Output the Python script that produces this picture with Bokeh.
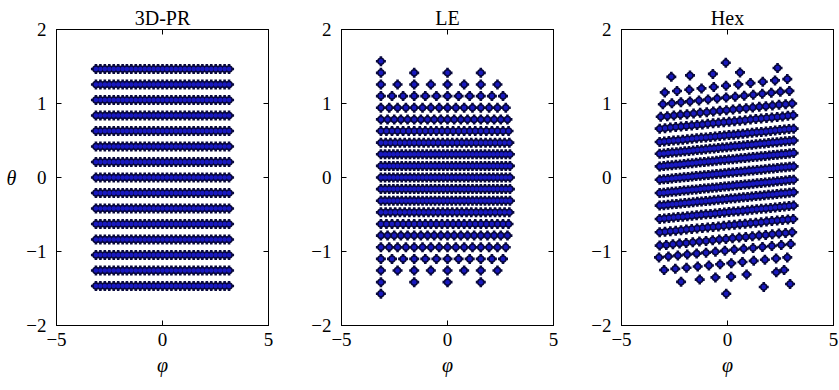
import numpy as np
from bokeh.plotting import figure
from bokeh.layouts import row
from bokeh.models import LinearAxis, FixedTicker, Range1d, ColumnDataSource, CustomJSTickFormatter
from bokeh.embed import file_html
from bokeh.resources import INLINE

# ---------------- data ----------------
titles = ["3D-PR", "LE", "Hex"]
x_ticks = [-5, 0, 5]
y_ticks = [-2, -1, 0, 1, 2]
x_label = "φ"
y_label = "θ"

# 3D-PR: regular grid (rows of theta, columns of phi)
pr_theta = [-1.466, -1.257, -1.047, -0.838, -0.628, -0.419, -0.209, 0.0,
            0.209, 0.419, 0.628, 0.838, 1.047, 1.257, 1.466]
pr_phi = [-3.14, -2.93, -2.72, -2.51, -2.30, -2.09, -1.88, -1.68, -1.47, -1.26,
          -1.05, -0.84, -0.63, -0.42, -0.21, 0.0, 0.21, 0.42, 0.63, 0.84,
          1.05, 1.26, 1.47, 1.68, 1.88, 2.09, 2.30, 2.51, 2.72, 2.93, 3.14]

# LE: rows of theta, number of points per row (start at phi = -pi, equal spacing)
le_theta = [1.571, 1.414, 1.257, 1.100, 0.942, 0.785, 0.628, 0.471, 0.314, 0.157, 0.0,
            -0.157, -0.314, -0.471, -0.628, -0.785, -0.942, -1.100, -1.257, -1.414, -1.571]
le_count = [1, 4, 8, 12, 16, 20, 24, 28, 32, 32, 32,
            32, 32, 28, 24, 20, 16, 12, 8, 4, 1]
le_phi_start = -3.1416

# Hex: isolated outer points
hex_top_phi = [-2.65, -1.77, -0.69, -0.08, 0.59, 2.36]
hex_top_theta = [1.36, 1.38, 1.40, 1.55, 1.42, 1.48]
hex_bottom_phi = [-2.19, -1.31, -0.57, 0.17, 0.90, 1.71, 2.30, 2.67, 2.95, -0.06]
hex_bottom_theta = [-1.41, -1.38, -1.35, -1.34, -1.31, -1.48, -1.28, -1.25, -1.44, -1.57]
# Hex: slanted rows (theta / phi at left and right end, number of points)
hex_row_theta_l = [1.15, 0.99, 0.82, 0.66, 0.48, 0.32, 0.15, -0.03, -0.21, -0.38, -0.56, -0.74, -0.92, -1.08, -1.25]
hex_row_theta_r = [1.33, 1.17, 1.00, 0.84, 0.66, 0.50, 0.33, 0.15, -0.03, -0.20, -0.38, -0.56, -0.74, -0.90, -1.08]
hex_row_phi_l = [-2.96, -3.05, -3.15, -3.20, -3.20, -3.20, -3.20, -3.20, -3.20, -3.20, -3.20, -3.20, -3.20, -3.23, -2.99]
hex_row_phi_r = [2.82, 2.92, 3.05, 3.10, 3.12, 3.12, 3.12, 3.12, 3.12, 3.12, 3.12, 3.10, 3.05, 2.98, 2.82]
hex_row_count = [11, 15, 21, 26, 30, 33, 34, 34, 34, 33, 30, 26, 21, 15, 12]

# ---------------- build point sets ----------------
pr_x, pr_y = [], []
for t in pr_theta:
    for ph in pr_phi:
        pr_x.append(ph)
        pr_y.append(t)

le_x, le_y = [], []
for t, n in zip(le_theta, le_count):
    step = 2 * np.pi / n if n > 1 else 0.0
    for j in range(n):
        le_x.append(le_phi_start + j * step)
        le_y.append(t)

hex_x = list(hex_top_phi) + list(hex_bottom_phi)
hex_y = list(hex_top_theta) + list(hex_bottom_theta)
for tl, tr, pl, pr_, n in zip(hex_row_theta_l, hex_row_theta_r, hex_row_phi_l, hex_row_phi_r, hex_row_count):
    hex_x += list(np.linspace(pl, pr_, n))
    hex_y += list(np.linspace(tl, tr, n))

datasets = [(pr_x, pr_y), (le_x, le_y), (hex_x, hex_y)]

FONT = "Liberation Serif"
minus_fmt = CustomJSTickFormatter(code="return tick < 0 ? '\u2212' + Math.abs(tick) : String(tick);")

widths = [285, 280, 274]
rights = [17, 12, 6]
figs = []
for i, (title, (xs, ys)) in enumerate(zip(titles, datasets)):
    p = figure(width=widths[i], height=390, output_backend="svg", toolbar_location=None,
               x_range=Range1d(-5, 5), y_range=Range1d(-2, 2),
               min_border_left=56, min_border_right=rights[i],
               min_border_top=29, min_border_bottom=65)
    p.title.text = title
    p.title.text_font = FONT
    p.title.text_font_size = "20px"
    p.title.text_font_style = "normal"
    p.title.text_color = "black"
    p.title.align = "center"
    p.title.offset = 0
    p.title.standoff = 1
    p.xgrid.visible = False
    p.ygrid.visible = False
    p.outline_line_color = "black"
    p.outline_line_width = 1
    p.background_fill_color = "white"
    p.border_fill_color = "white"

    for ax in (p.xaxis[0], p.yaxis[0]):
        ax.major_tick_in = 5
        ax.major_tick_out = 0
        ax.minor_tick_line_color = None
        ax.axis_line_color = "black"
        ax.major_tick_line_color = "black"
        ax.major_label_text_font = FONT
        ax.major_label_text_font_size = "19px"
        ax.major_label_text_color = "black"
        ax.axis_label_text_font = FONT
        ax.axis_label_text_font_size = "20px"
        ax.axis_label_text_font_style = "italic"
        ax.axis_label_text_color = "black"
        ax.formatter = minus_fmt
    p.xaxis[0].ticker = FixedTicker(ticks=x_ticks)
    p.yaxis[0].ticker = FixedTicker(ticks=y_ticks)
    p.xaxis[0].major_label_standoff = 7
    p.yaxis[0].major_label_standoff = 10
    p.xaxis[0].axis_label = x_label
    p.xaxis[0].axis_label_standoff = 5
    if i == 0:
        p.yaxis[0].axis_label = y_label
        p.yaxis[0].axis_label_orientation = "horizontal"
        p.yaxis[0].axis_label_standoff = 7

    top = LinearAxis(ticker=FixedTicker(ticks=x_ticks), major_label_text_font_size="1px",
                     major_label_text_color=None,
                     major_tick_in=5, major_tick_out=0, minor_tick_line_color=None,
                     major_label_standoff=0, axis_line_color="black")
    right = LinearAxis(ticker=FixedTicker(ticks=y_ticks), major_label_text_font_size="1px",
                       major_label_text_color=None,
                       major_tick_in=5, major_tick_out=0, minor_tick_line_color=None,
                       major_label_standoff=0, axis_line_color="black")
    p.add_layout(top, "above")
    p.add_layout(right, "right")

    src = ColumnDataSource(dict(x=xs, y=ys))
    p.scatter("x", "y", source=src, marker="circle", size=7.5, line_color=None, fill_color="#08083c")
    p.scatter("x", "y", source=src, marker="cross", size=10, line_width=2.6, line_color="#08083c")
    p.scatter("x", "y", source=src, marker="circle", size=4.5, line_color=None, fill_color="#1818c0")
    figs.append(p)

layout = row(*figs)
open("out.html", "w").write(file_html(layout, INLINE))
